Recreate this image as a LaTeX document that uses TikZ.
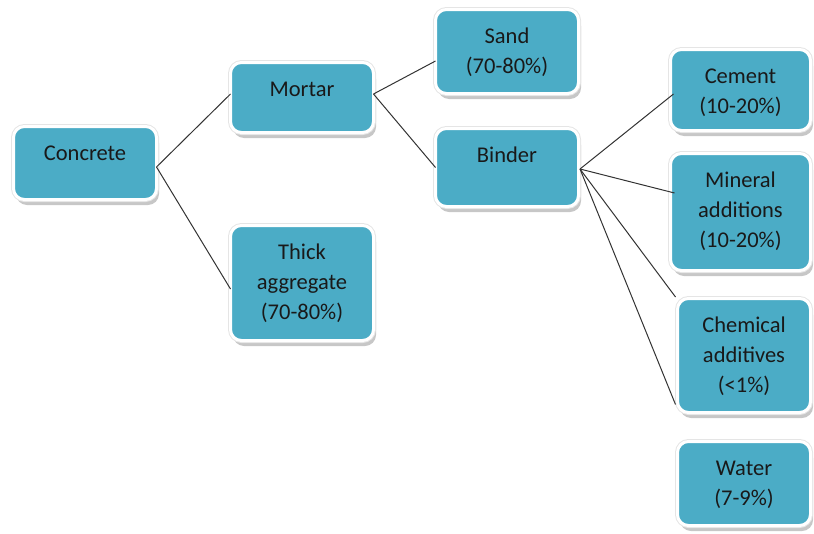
\documentclass[tikz,border=0pt]{standalone}
\usepackage{fontspec}
\setmainfont{Carlito}
\usepackage{xcolor}
\usetikzlibrary{shadows}
\definecolor{partblue}{RGB}{75,172,198}

\begin{document}
\begin{tikzpicture}[
    x=1pt, y=-1pt,
    part/.style 2 args={rectangle, draw=white, line width=3pt, fill=partblue, rounded corners=11pt,
        anchor=north west, inner sep=0pt, outer sep=0pt, text=black!90,
        font=\fontsize{22.5}{30}\selectfont,
        drop shadow={shadow xshift=2.5pt, shadow yshift=-5.5pt, fill=black!40, opacity=0.55},
        preaction={draw=black!10, line width=5pt},
        execute at begin node={\begin{minipage}[t][#2][t]{#1}\centering\rule{0pt}{33.5pt}},
        execute at end node={\end{minipage}}},
    link/.style={draw=black!80, line width=1pt}
]
\useasboundingbox (0,0) rectangle (814,533);

% left column
\node[part={143pt}{73pt}] (concrete) at (13.5,126.5) {Concrete};

% second column
\node[part={143pt}{70pt}] (mortar) at (230.5,62.5) {Mortar};
\node[part={143pt}{115pt}] (thick) at (230.5,225.5) {Thick\\aggregate\\(70-80\%)};

% third column
\node[part={143pt}{84pt}] (sand) at (435.5,9.5) {Sand\\(70-80\%)};
\node[part={143pt}{78pt}] (binder) at (435.5,128.5) {Binder};

% right column
\node[part={140pt}{81pt}] (cement) at (670.5,49.5) {Cement\\(10-20\%)};
\node[part={140pt}{117pt}] (mineral) at (670.5,153.5) {Mineral\\additions\\(10-20\%)};
\node[part={133pt}{114pt}] (chemical) at (677.5,298.5) {Chemical\\additives\\(<1\%)};
\node[part={133pt}{84pt}] (water) at (677.5,441.5) {Water\\(7-9\%)};

% connectors
\draw[link] ([yshift=-4pt]concrete.east) -- ([yshift=3.5pt]mortar.west);
\draw[link] ([yshift=-4pt]concrete.east) -- ([yshift=-6pt]thick.west);
\draw[link] ([yshift=3.5pt]mortar.east) -- ([yshift=-9.5pt]sand.west);
\draw[link] ([yshift=3.5pt]mortar.east) -- (binder.west);
\draw[link] ([xshift=1.5pt,yshift=-1.5pt]binder.east) -- ([xshift=3pt,yshift=-4pt]cement.west);
\draw[link] ([xshift=1.5pt,yshift=-1.5pt]binder.east) -- ([xshift=4pt,yshift=19pt]mineral.west);
\draw[link] ([xshift=1.5pt,yshift=-1.5pt]binder.east) -- ([xshift=-2pt,yshift=1.5pt]chemical.north west);
\draw[link] ([xshift=1.5pt,yshift=-1.5pt]binder.east) -- ([xshift=-2pt,yshift=8pt]chemical.south west);

\end{tikzpicture}
\end{document}
